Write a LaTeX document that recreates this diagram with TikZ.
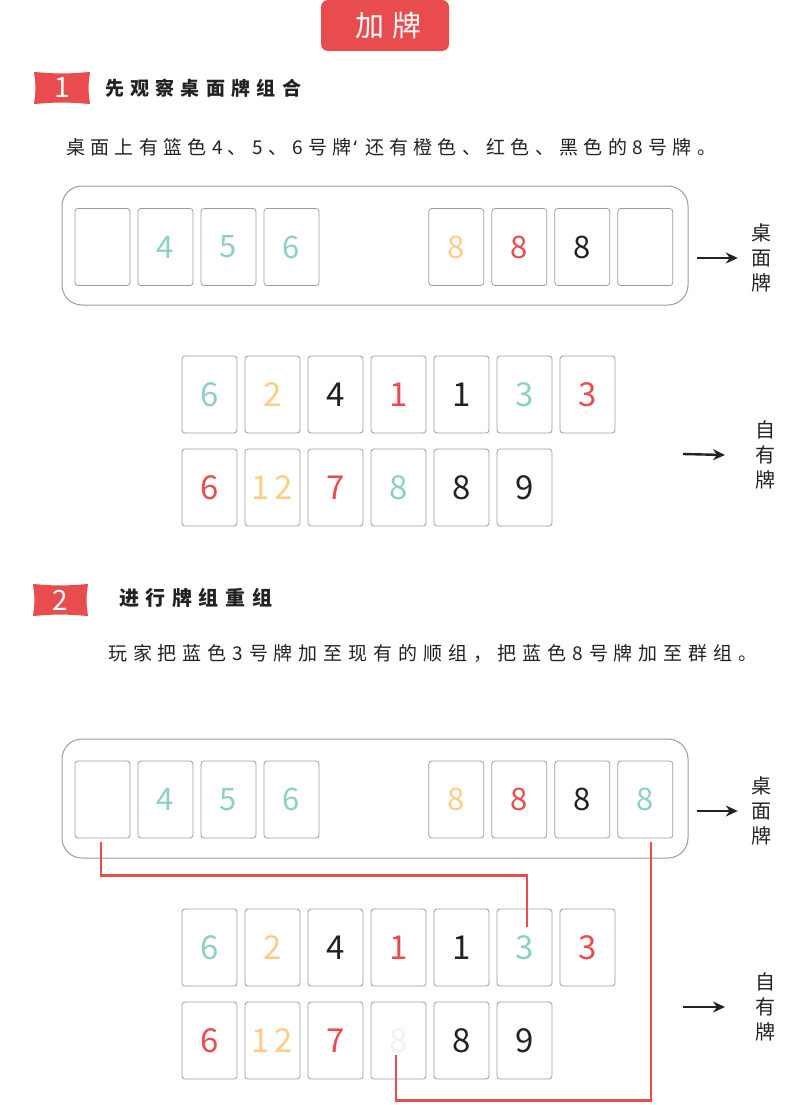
\documentclass[tikz,border=0pt]{standalone}
\usepackage{fontspec}
\setmainfont{Noto Sans CJK SC}
\newfontfamily\widefont[LetterSpace=26]{Noto Sans CJK SC}
\newfontfamily\descfont[LetterSpace=28]{Noto Sans CJK SC}
\newfontfamily\widerfont[LetterSpace=31]{Noto Sans CJK SC}
\newfontfamily\headfont[LetterSpace=33]{Noto Sans CJK SC}
\newfontfamily\quotefont{Noto Sans}
\usetikzlibrary{arrows.meta,positioning}
\definecolor{pkred}{RGB}{232,76,79}
\definecolor{pkteal}{RGB}{142,207,196}
\definecolor{pkorange}{RGB}{253,204,135}
\definecolor{pkink}{RGB}{34,34,34}
\definecolor{pkgray}{RGB}{155,155,155}
\definecolor{pkpale}{RGB}{232,245,242}

\begin{document}
\begin{tikzpicture}[x=1pt,y=-1pt,node distance=7.2pt,
    card/.style={draw=pkgray,line width=0.8pt,rounded corners=3pt,minimum width=55pt,minimum height=77pt,inner sep=0pt,font=\fontsize{31}{31}\selectfont},
    hand/.style={card,font=\fontsize{33}{33}\selectfont},
    tray/.style={draw=pkgray,line width=1pt,rounded corners=20pt,minimum width=626pt,minimum height=119pt},
    txt/.style={anchor=west,inner sep=0pt,text=pkink},
    side/.style={align=center,inner sep=0pt,text=pkink,font=\fontsize{20}{25}\selectfont},
    sidearrow/.style={-{Stealth[length=12pt,width=11pt]},line width=2.4pt,pkink},
    badgetext/.style={text=white,font=\fontsize{28}{28}\selectfont},
    link/.style={pkred,line width=2.2pt}]
  \useasboundingbox (0,0) rectangle (790,1105);

  % title
  \node[fill=pkred,rounded corners=7pt,minimum width=128pt,minimum height=51pt,text=white,font=\widefont\fontsize{29}{29}\selectfont] (title) at (385,25.5) {\hspace{7pt}加牌};

  % step 1
  \fill[pkred] (34,72) .. controls (62,74) .. (90,72) .. controls (88,88) .. (90,104) .. controls (62,102) .. (34,104) .. controls (36,88) .. (34,72) -- cycle;
  \node[badgetext] (b1) at (62,88) {1};
  \node[txt,font=\headfont\bfseries\fontsize{19}{19}\selectfont] (h1) at (105,88) {先观察桌面牌组合};
  \node[txt,font=\descfont\fontsize{19}{19}\selectfont] (d1) at (66,147) {桌面上有篮色4、5、6号牌\hspace{2pt}{\quotefont‘}\hspace{8pt}还有橙色、红色、黑色的8号牌。};

  \node[tray] (tray1) at (375,245.5) {};
  \node[card] (t1a) at (102.5,247) {};
  \node[card,right=of t1a,text=pkteal] (t1b) {4};
  \node[card,right=of t1b,text=pkteal] (t1c) {5};
  \node[card,right=of t1c,text=pkteal] (t1d) {6};
  \node[card,right=109pt of t1d,text=pkorange] (t1e) {8};
  \node[card,right=of t1e,text=pkred] (t1f) {8};
  \node[card,right=of t1f,text=pkink] (t1g) {8};
  \node[card,right=of t1g] (t1h) {};
  \node[side] (lab1) at (761,258) {桌\\面\\牌};
  \draw[sidearrow,shorten <=8pt,shorten >=13pt] (lab1.west -| tray1.east) -- (lab1.west);

  \node[hand,text=pkteal] (p1a) at (209.5,394.5) {6};
  \node[hand,right=of p1a,text=pkorange] (p1b) {2};
  \node[hand,right=of p1b,text=pkink] (p1c) {4};
  \node[hand,right=of p1c,text=pkred] (p1d) {1};
  \node[hand,right=of p1d,text=pkink] (p1e) {1};
  \node[hand,right=of p1e,text=pkteal] (p1f) {3};
  \node[hand,right=of p1f,text=pkred] (p1g) {3};
  \node[hand,below=15.2pt of p1a,text=pkred] (p1h) {6};
  \node[hand,right=of p1h,text=pkorange] (p1i) {1\hspace{5pt}2};
  \node[hand,right=of p1i,text=pkred] (p1j) {7};
  \node[hand,right=of p1j,text=pkteal] (p1k) {8};
  \node[hand,right=of p1k,text=pkink] (p1l) {8};
  \node[hand,right=of p1l,text=pkink] (p1m) {9};
  \node[side] (lab2) at (765,455) {自\\有\\牌};
  \coordinate (p1tail) at (683,454);
  \draw[sidearrow] (p1tail) -- (lab2.west -| 725,0);

  % step 2
  \fill[pkred] (33,584) .. controls (60,586) .. (88,584) .. controls (86,600) .. (88,616) .. controls (60,614) .. (33,616) .. controls (35,600) .. (33,584) -- cycle;
  \node[badgetext] (b2) at (60.5,600) {2};
  \node[txt,font=\headfont\bfseries\fontsize{20}{20}\selectfont] (h2) at (119,598) {进行牌组重组};
  \node[txt,font=\widerfont\fontsize{19}{19}\selectfont] (d2) at (108,653) {玩家把蓝色3号牌加至现有的顺组，把蓝色8号牌加至群组。};

  \node[tray] (tray2) at (375,798.5) {};
  \node[card] (t2a) at (102.5,799.5) {};
  \node[card,right=of t2a,text=pkteal] (t2b) {4};
  \node[card,right=of t2b,text=pkteal] (t2c) {5};
  \node[card,right=of t2c,text=pkteal] (t2d) {6};
  \node[card,right=109pt of t2d,text=pkorange] (t2e) {8};
  \node[card,right=of t2e,text=pkred] (t2f) {8};
  \node[card,right=of t2f,text=pkink] (t2g) {8};
  \node[card,right=of t2g,text=pkteal] (t2h) {8};
  \node[side] (lab3) at (761,811) {桌\\面\\牌};
  \draw[sidearrow,shorten <=8pt,shorten >=13pt] (lab3.west -| tray2.east) -- (lab3.west);

  \node[hand,text=pkteal] (p2a) at (209.5,947.5) {6};
  \node[hand,right=of p2a,text=pkorange] (p2b) {2};
  \node[hand,right=of p2b,text=pkink] (p2c) {4};
  \node[hand,right=of p2c,text=pkred] (p2d) {1};
  \node[hand,right=of p2d,text=pkink] (p2e) {1};
  \node[hand,right=of p2e,text=pkteal] (p2f) {3};
  \node[hand,right=of p2f,text=pkred] (p2g) {3};
  \node[hand,below=15.2pt of p2a,text=pkred] (p2h) {6};
  \node[hand,right=of p2h,text=pkorange] (p2i) {1\hspace{5pt}2};
  \node[hand,right=of p2i,text=pkred] (p2j) {7};
  \node[hand,right=of p2j,text=pkpale] (p2k) {8};
  \node[hand,right=of p2k,text=pkink] (p2l) {8};
  \node[hand,right=of p2l,text=pkink] (p2m) {9};
  \node[side] (lab4) at (765,1007) {自\\有\\牌};
  \coordinate (p2tail) at (683,1007);
  \draw[sidearrow] (p2tail) -- (lab4.west -| 725,0);

  % moves
  \draw[link] ([xshift=-1.5pt,yshift=-4pt]t2a.south) -- ++(0,33) -| ([xshift=2.5pt,yshift=-18pt]p2f.north);
  \draw[link] ([xshift=6pt,yshift=-4pt]t2h.south) -- ++(0,258) -| ([xshift=-2.5pt,yshift=24pt]p2k.south);
\end{tikzpicture}
\end{document}
